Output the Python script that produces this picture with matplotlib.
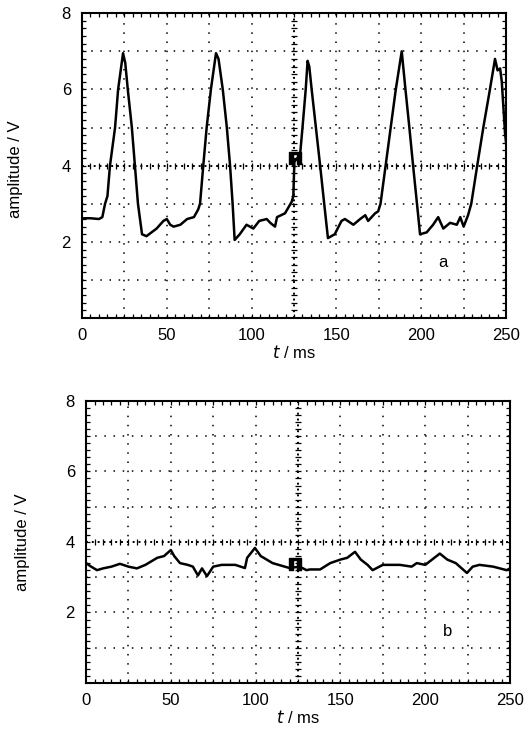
import numpy as np
import matplotlib
matplotlib.use("Agg")
import matplotlib.pyplot as plt

plt.rcParams['font.family'] = ['Liberation Sans', 'DejaVu Sans']
plt.rcParams['font.size'] = 12

# ---------------- data ----------------
# panel a: pulsating signal
t_a = [0, 5, 10, 12, 13.6, 15, 16.5, 19.5, 21.3, 24.2, 25.5, 27, 29.4, 31.2, 33, 35.4,
       38, 41, 44, 48, 50, 52, 54, 58, 62, 66, 68.5, 69.6, 71.5, 73.5, 76, 79, 80.5,
       83, 85.4, 87.3, 88.8, 90, 93, 97, 101, 104.5, 108.9, 111, 113.8, 115, 119.7,
       123.6, 124.6, 125.2, 127, 128.5, 130, 131.9, 133, 134, 135.4, 137.9, 140.4,
       142.8, 145, 149, 153, 155, 160, 164, 167, 168.7, 172.8, 174.6, 176, 179, 182,
       185, 188.5, 190.7, 193, 195.2, 197.5, 199.3, 203.2, 207, 210, 213, 217, 221,
       223, 225, 227.6, 229.5, 233, 236.6, 240.5, 243.5, 245, 246.5, 247.5, 249.4, 250]
v_a = [2.62, 2.62, 2.6, 2.65, 3.0, 3.2, 4.0, 5.0, 6.0, 6.95, 6.7, 6.0, 5.0, 4.0, 3.0, 2.2,
       2.15, 2.25, 2.35, 2.55, 2.6, 2.45, 2.4, 2.45, 2.6, 2.65, 2.85, 3.0, 4.0, 5.0, 6.0, 6.95, 6.8,
       6.0, 5.0, 4.0, 3.0, 2.05, 2.2, 2.45, 2.35, 2.55, 2.6, 2.5, 2.4, 2.65, 2.75,
       3.05, 3.2, 4.1, 4.2, 4.25, 5.0, 6.0, 6.75, 6.6, 6.0, 5.0, 4.0,
       3.0, 2.1, 2.2, 2.55, 2.6, 2.45, 2.6, 2.7, 2.55, 2.75, 2.8, 3.0, 4.0, 5.0,
       6.0, 7.0, 6.0, 5.0, 4.0, 3.0, 2.2, 2.25, 2.45, 2.65, 2.35, 2.5, 2.45,
       2.65, 2.4, 2.7, 3.0, 4.0, 5.0, 6.0, 6.8, 6.5, 6.55, 6.2, 4.85, 4.6]

# panel b: nearly flat signal
t_b = [0, 3, 6.5, 10, 15, 20, 25, 30, 35, 42, 46, 50, 52, 55.4, 60, 63, 66, 68.4, 71.3,
       75, 80, 88, 93.7, 95, 99.6, 103, 110, 120, 126, 130, 132, 138, 144, 150, 154,
       158.6, 162, 166, 169, 175, 185, 192, 195, 200, 208.6, 213, 218, 224.6, 228,
       232, 240, 248, 250]
v_b = [3.4, 3.3, 3.2, 3.25, 3.3, 3.38, 3.3, 3.25, 3.35, 3.55, 3.6, 3.77, 3.6, 3.4, 3.35,
       3.3, 3.05, 3.25, 3.03, 3.3, 3.35, 3.35, 3.26, 3.55, 3.83, 3.6, 3.4, 3.26, 3.3,
       3.2, 3.22, 3.22, 3.4, 3.5, 3.55, 3.72, 3.5, 3.35, 3.2, 3.35, 3.35, 3.3, 3.4,
       3.35, 3.67, 3.5, 3.4, 3.12, 3.3, 3.35, 3.3, 3.2, 3.25]

trig_a = (125.5, 4.2)
trig_b = (123, 3.38)

x_ticks = [0, 50, 100, 150, 200, 250]
y_ticks = [2, 4, 6, 8]


def scope_axes(ax, t, v, trig, tag):
    ax.set_xlim(0, 250)
    ax.set_ylim(0, 8)
    # oscilloscope graticule
    for gx in np.arange(25, 250, 25):
        if gx != 125:
            ax.axvline(gx, color='k', lw=1.1, ls=(0, (1, 5)), zorder=1)
    for gy in np.arange(1, 8, 1):
        if gy != 4:
            ax.axhline(gy, color='k', lw=1.1, ls=(0, (1, 5)), zorder=1)
    ax.axvline(125, color='k', lw=1.4, ls=(0, (1, 2)), zorder=1)
    ax.axhline(4, color='k', lw=1.4, ls=(0, (1, 2)), zorder=1)
    sub_x = np.arange(5.0, 250.0, 5.0)
    sub_y = np.arange(0.2, 8.0, 0.2)
    ax.plot(sub_x, np.full_like(sub_x, 4.0), ls='none', marker='|', ms=5, mew=0.9, color='k', zorder=1)
    ax.plot(np.full_like(sub_y, 125.0), sub_y, ls='none', marker='_', ms=5, mew=0.9, color='k', zorder=1)
    ax.plot(sub_x, np.full_like(sub_x, 0.06), ls='none', marker='|', ms=3, mew=0.9, color='k', zorder=1)
    ax.plot(sub_x, np.full_like(sub_x, 7.94), ls='none', marker='|', ms=3, mew=0.9, color='k', zorder=1)
    ax.plot(np.full_like(sub_y, 1.0), sub_y, ls='none', marker='_', ms=3, mew=0.9, color='k', zorder=1)
    ax.plot(np.full_like(sub_y, 249.0), sub_y, ls='none', marker='_', ms=3, mew=0.9, color='k', zorder=1)

    ax.plot(t, v, color='k', lw=1.8, zorder=3)
    ax.plot([trig[0]], [trig[1]], marker=r'$\mathbf{\Pi}$', ms=9, color='k', zorder=4)

    ax.set_xticks(x_ticks)
    ax.set_yticks(y_ticks)
    ax.tick_params(length=0, labelsize=12)
    ax.tick_params(axis='x', pad=7)
    ax.tick_params(axis='y', pad=8)
    for s in ax.spines.values():
        s.set_linewidth(1.5)
    ax.set_xlabel(r'$t$ / ms', fontsize=12, labelpad=1)
    ax.set_ylabel('amplitude / V', fontsize=12)
    ax.text(213, 1.45, tag, fontsize=12, ha='center', va='center')


fig = plt.figure(figsize=(5.31, 7.33), dpi=100)
ax1 = fig.add_axes([0.1544, 0.566, 0.7986, 0.416])
ax2 = fig.add_axes([0.162, 0.0682, 0.7985, 0.3849])

scope_axes(ax1, t_a, v_a, trig_a, 'a')
scope_axes(ax2, t_b, v_b, trig_b, 'b')
ax1.yaxis.set_label_coords(-0.139, 0.49)
ax2.yaxis.set_label_coords(-0.132, 0.5)

fig.savefig('out.png', dpi=100)
